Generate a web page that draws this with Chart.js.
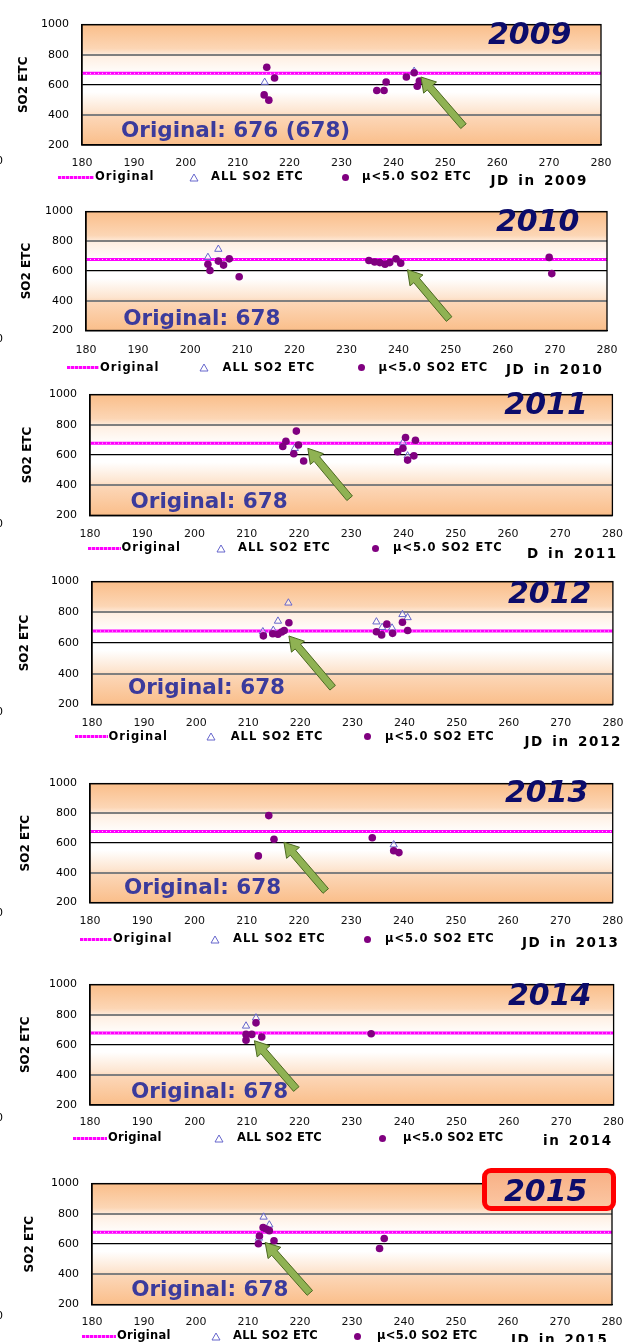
<!DOCTYPE html>
<html>
<head>
<meta charset="utf-8">
<script src="https://cdn.jsdelivr.net/npm/chart.js@4.4.1/dist/chart.umd.min.js"></script>
<style>
  html, body { margin: 0; padding: 0; background: #fff; }
  #page { position: relative; width: 635px; height: 1342px; overflow: hidden; background: #fff; }
  #page canvas { position: absolute; left: 0; }
  .t { position: absolute; white-space: nowrap; font-family: "DejaVu Sans", sans-serif; line-height: 1; z-index: 3; }
  .year { font-weight: bold; font-style: italic; font-size: 30px; color: #0c0c6a; z-index: 5; }
  .caption { font-weight: bold; font-size: 21.5px; color: #3b3b9c; }
  .leg { font-weight: bold; font-size: 11.5px; letter-spacing: 1px; color: #000; }
  .jd { font-weight: bold; font-size: 13.5px; letter-spacing: 1.6px; word-spacing: 2px; color: #000; }
  .zero { font-size: 11px; color: #000; }
  .sym { position: absolute; z-index: 3; }
  .hilite { position: absolute; box-sizing: border-box; border: 5px solid #ff0000; border-radius: 9px;
            background: linear-gradient(#f8b186, #fbc6a2); z-index: 4; }
</style>
</head>
<body>
<div id="page"></div>
<script>
// ---- data ---------------------------------------------------------------
const tickDays   = [180, 190, 200, 210, 220, 230, 240, 250, 260, 270, 280];
const tickValues = [200, 400, 600, 800, 1000];
const yearList   = [2009, 2010, 2011, 2012, 2013, 2014, 2015];
const originalLevel = [676, 678, 678, 678, 678, 678, 678];
const captions = ['Original: 676 (678)', 'Original: 678', 'Original: 678', 'Original: 678',
                  'Original: 678', 'Original: 678', 'Original: 678'];
const xTitles  = ['JD in  2009', 'JD in  2010', 'D in  2011', 'JD in  2012',
                  'JD in  2013', 'in  2014', 'JD in  2015'];

// [julian day, SO2 ETC] — all retrievals (triangles)
const all2009 = [[215.2, 617], [244.0, 690]];
const all2010 = [[203.4, 692], [205.4, 747]];
const all2011 = [[219.2, 644], [239.9, 681], [240.8, 594]];
const all2012 = [[217.7, 861], [215.7, 743], [212.8, 674], [214.8, 683], [234.6, 738],
                 [235.7, 702], [237.6, 698], [239.6, 786], [240.6, 766]];
const all2013 = [[238.1, 589]];
const all2014 = [[209.8, 725], [211.7, 779]];
const all2015 = [[213.0, 779], [214.1, 727], [212.1, 640]];

// [julian day, SO2 ETC] — retrievals with mu < 5.0 (filled dots)
const mu2009 = [[215.6, 717], [217.1, 645], [215.1, 533], [216.0, 498], [236.8, 562], [238.2, 562],
                [238.6, 619], [242.5, 652], [244.0, 680], [245.0, 625], [244.6, 590]];
const mu2010 = [[203.4, 646], [203.8, 604], [205.4, 667], [206.4, 640], [207.5, 682], [209.4, 562],
                [234.3, 671], [235.4, 661], [236.4, 657], [237.4, 646], [238.3, 657], [239.5, 682],
                [240.4, 653], [268.9, 692], [269.4, 583]];
const mu2011 = [[219.5, 758], [217.5, 691], [216.9, 656], [219.9, 666], [219.0, 608], [220.9, 560],
                [240.4, 716], [242.3, 697], [239.9, 644], [238.9, 621], [242.0, 594], [240.8, 566]];
const mu2012 = [[217.8, 732], [212.9, 647], [214.7, 661], [215.7, 657], [216.9, 682], [216.4, 672],
                [236.6, 723], [234.6, 674], [235.6, 653], [237.7, 663], [239.6, 735], [240.6, 682]];
const mu2013 = [[214.2, 785], [215.2, 626], [212.2, 514], [234.0, 636], [238.1, 549], [239.1, 536]];
const mu2014 = [[211.7, 746], [209.8, 669], [210.9, 669], [209.8, 631], [212.8, 652], [233.7, 673]];
const mu2015 = [[212.9, 710], [213.5, 700], [214.1, 689], [212.2, 654], [212.0, 602], [215.0, 622],
                [236.2, 637], [235.3, 571]];

const allSeries = [all2009, all2010, all2011, all2012, all2013, all2014, all2015];
const muSeries  = [mu2009, mu2010, mu2011, mu2012, mu2013, mu2014, mu2015];

// ---- page layout (pixels) and pointer annotations (data units) ----------
// box: plot area [left, top, right, bottom]
const frames = [
  {box: [82, 17, 601, 145],       xGap: 18.3, yTitleX: 23.5, year: [488, 22.7],   caption: [121, 121.7],
   legY: 177,   legX: [58, 94, 95, 194, 211, 345, 362],            jd: [490.5, 180],  zeroY: 160,
   tip: [245.3, 652], tail: [253.5, 325], legSpacing: 1},
  {box: [86, 204.5, 607, 330.5],  xGap: 19.5, yTitleX: 27.3, year: [496, 210],    caption: [123.3, 310],
   legY: 367.7, legX: [66.6, 99, 100, 204, 222.5, 361.4, 378.4],   jd: [506, 369],    zeroY: 338,
   tip: [241.7, 609], tail: [249.7, 277], legSpacing: 1},
  {box: [90, 387.3, 616, 515.3],  xGap: 18.7, yTitleX: 27.6, year: [504.3, 392.7], caption: [130.5, 492.7],
   legY: 548,   legX: [88, 120.5, 121.5, 220.8, 238, 375.5, 393],  jd: [527, 553],    zeroY: 523,
   tip: [221.7, 644], tail: [229.7, 313], legSpacing: 1},
  {box: [92, 574, 618, 704.5],    xGap: 18.2, yTitleX: 24.7, year: [508, 581.7],  caption: [127.9, 679],
   legY: 736.7, legX: [75, 107.5, 108.5, 211, 230.7, 367.4, 385],  jd: [524.5, 741.7], zeroY: 711.7,
   tip: [217.8, 646], tail: [226.2, 309], legSpacing: 1},
  {box: [90, 776, 616, 902.6],    xGap: 18.4, yTitleX: 26, year: [505, 781],      caption: [124, 879],
   legY: 939,   legX: [80, 112, 113, 215, 233, 367, 385],          jd: [522, 942],    zeroY: 912,
   tip: [217.1, 606], tail: [225.1, 278], legSpacing: 1},
  {box: [90, 977, 616, 1105],     xGap: 17.5, yTitleX: 26, year: [508, 984],      caption: [131, 1083],
   legY: 1138,  legX: [73, 107, 108, 219, 237, 382, 403],          jd: [543, 1140],   zeroY: 1117,
   tip: [211.4, 627], tail: [219.4, 306], legSpacing: 0.3},
  {box: [92, 1176, 612, 1304.6],  xGap: 17.1, yTitleX: 30, year: [504, 1180],     caption: [131.2, 1281],
   legY: 1336,  legX: [82, 116, 117, 216, 233, 357, 377],          jd: [511, 1339],   zeroY: 1315,
   tip: [213.3, 611], tail: [221.9, 277], legSpacing: 0.3, highlight: [482, 1168, 134, 43]},
];

const FONT = '"DejaVu Sans", sans-serif';
const page = document.getElementById('page');

// ---- plugins ------------------------------------------------------------
const panelBackground = {
  id: 'panelBackground',
  beforeDraw(chart) {
    const {ctx, chartArea: a} = chart;
    const g = ctx.createLinearGradient(0, a.top, 0, a.bottom);
    g.addColorStop(0.00, '#fabe8a');
    g.addColorStop(0.20, '#fcd6b5');
    g.addColorStop(0.26, '#ffefe2');
    g.addColorStop(0.42, '#ffffff');
    g.addColorStop(0.56, '#ffffff');
    g.addColorStop(0.72, '#fde5d0');
    g.addColorStop(0.76, '#fcd7b8');
    g.addColorStop(1.00, '#fabe8a');
    ctx.save();
    ctx.fillStyle = g;
    ctx.fillRect(a.left, a.top, a.right - a.left, a.bottom - a.top);
    ctx.restore();
  }
};

const panelFrame = {
  id: 'panelFrame',
  afterDatasetsDraw(chart) {
    const {ctx, chartArea: a} = chart;
    ctx.save();
    ctx.strokeStyle = '#000';
    ctx.lineWidth = 1.3;
    ctx.strokeRect(a.left, a.top, a.right - a.left, a.bottom - a.top);
    ctx.restore();
  }
};

const pointerArrow = {
  id: 'pointerArrow',
  afterDraw(chart, args, opts) {
    if (!opts || !opts.tip) return;
    const {ctx, scales: {x, y}} = chart;
    const tx = x.getPixelForValue(opts.tip[0]),  ty = y.getPixelForValue(opts.tip[1]);
    const bx = x.getPixelForValue(opts.tail[0]), by = y.getPixelForValue(opts.tail[1]);
    const len = Math.hypot(tx - bx, ty - by);
    const ux = (tx - bx) / len, uy = (ty - by) / len;
    const nx = -uy, ny = ux;
    const sw = 3.6, hw = 8.5, hl = 14;
    const neckX = tx - ux * hl, neckY = ty - uy * hl;
    ctx.save();
    ctx.beginPath();
    ctx.moveTo(bx + nx * sw, by + ny * sw);
    ctx.lineTo(neckX + nx * sw, neckY + ny * sw);
    ctx.lineTo(neckX + nx * hw, neckY + ny * hw);
    ctx.lineTo(tx, ty);
    ctx.lineTo(neckX - nx * hw, neckY - ny * hw);
    ctx.lineTo(neckX - nx * sw, neckY - ny * sw);
    ctx.lineTo(bx - nx * sw, by - ny * sw);
    ctx.closePath();
    ctx.fillStyle = '#8fb253';
    ctx.fill();
    ctx.lineWidth = 1;
    ctx.strokeStyle = '#4d6a22';
    ctx.stroke();
    ctx.restore();
  }
};

// ---- helpers ------------------------------------------------------------
function addText(txt, cls, left, top, style) {
  const d = document.createElement('div');
  d.className = 't ' + cls;
  d.textContent = txt;
  d.style.left = left + 'px';
  d.style.top = top + 'px';
  if (style) Object.assign(d.style, style);
  page.appendChild(d);
  return d;
}

function addLegend(f) {
  const y = f.legY;
  const [l0, l1, origX, triX, allX, dotX, muX] = f.legX;
  // dotted magenta line sample
  const line = document.createElement('div');
  line.className = 'sym';
  Object.assign(line.style, {left: l0 + 'px', top: (y - 1.5) + 'px', width: (l1 - l0) + 'px', height: '3px',
    background: 'repeating-linear-gradient(90deg, #ff00ff 0 3px, #ff9cff 3px 4px)'});
  page.appendChild(line);
  // hollow triangle
  const svgNS = 'http://www.w3.org/2000/svg';
  const svg = document.createElementNS(svgNS, 'svg');
  svg.setAttribute('width', '10'); svg.setAttribute('height', '9');
  svg.setAttribute('class', 'sym');
  svg.style.left = (triX - 5) + 'px'; svg.style.top = (y - 4.5) + 'px';
  const poly = document.createElementNS(svgNS, 'polygon');
  poly.setAttribute('points', '5,1 9,8 1,8');
  poly.setAttribute('fill', 'none'); poly.setAttribute('stroke', '#6666cc'); poly.setAttribute('stroke-width', '1');
  svg.appendChild(poly);
  page.appendChild(svg);
  // filled dot
  const dot = document.createElement('div');
  dot.className = 'sym';
  Object.assign(dot.style, {left: (dotX - 3.5) + 'px', top: (y - 3.5) + 'px', width: '7px', height: '7px',
    borderRadius: '50%', background: '#800080'});
  page.appendChild(dot);
  const fs = 11.5, top = y - 0.48 * fs;
  const sp = {letterSpacing: f.legSpacing + 'px'};
  addText('Original', 'leg', origX, top, sp);
  addText('ALL SO2 ETC', 'leg', allX, top, sp);
  addText('\u03BC<5.0 SO2 ETC', 'leg', muX, top, sp);
}

// ---- build panels ---------------------------------------------------------
frames.forEach((f, i) => {
  const [bl, bt, br, bb] = f.box;
  const cTop = Math.floor(bt) - 12;
  const cBottom = Math.ceil(bb) + 28;
  const cH = cBottom - cTop;
  const canvas = document.createElement('canvas');
  canvas.width = 635; canvas.height = cH;
  canvas.style.top = cTop + 'px';
  canvas.style.width = '635px'; canvas.style.height = cH + 'px';
  page.appendChild(canvas);

  const level = originalLevel[i];
  const origLine = [{x: tickDays[0], y: level}, {x: tickDays[tickDays.length - 1], y: level}];
  const toXY = arr => arr.map(([d, v]) => ({x: d, y: v}));

  new Chart(canvas, {
    type: 'scatter',
    data: {
      datasets: [
        {label: '\u03BC<5.0 SO2 ETC', data: toXY(muSeries[i]), order: 0,
         pointStyle: 'circle', pointRadius: 3.8, backgroundColor: '#800080', borderColor: '#800080', borderWidth: 0},
        {label: 'ALL SO2 ETC', data: toXY(allSeries[i]), order: 1,
         pointStyle: 'triangle', pointRadius: 4.2, backgroundColor: 'rgba(255,255,255,0.5)', borderColor: '#6666cc', borderWidth: 1},
        {type: 'line', label: 'Original (dots)', data: origLine, order: 2,
         borderColor: '#ffd0ff', borderWidth: 1, borderDash: [1, 3], pointRadius: 0, fill: false},
        {type: 'line', label: 'Original', data: origLine, order: 3,
         borderColor: '#ff00ff', borderWidth: 3, pointRadius: 0, fill: false}
      ]
    },
    options: {
      responsive: false,
      animation: false,
      devicePixelRatio: 1,
      events: [],
      layout: {padding: {left: 0, right: 635 - br, top: bt - cTop, bottom: 0}},
      plugins: {
        legend: {display: false},
        tooltip: {enabled: false},
        pointerArrow: {tip: f.tip, tail: f.tail}
      },
      scales: {
        x: {
          type: 'linear', position: 'bottom', min: tickDays[0], max: tickDays[tickDays.length - 1],
          afterBuildTicks: s => { s.ticks = tickDays.map(v => ({value: v})); },
          afterFit: s => { s.height = cH - (bb - cTop); },
          ticks: {font: {family: FONT, size: 11}, color: '#111', padding: f.xGap - 6.6, maxRotation: 0,
                  autoSkip: false, callback: v => String(v)},
          grid: {display: false, drawTicks: false},
          border: {display: true, color: '#000', width: 1.3}
        },
        y: {
          type: 'linear', position: 'left', min: tickValues[0], max: tickValues[tickValues.length - 1],
          afterBuildTicks: s => { s.ticks = tickValues.map(v => ({value: v})); },
          afterFit: s => { s.width = bl; },
          ticks: {font: {family: FONT, size: 11}, color: '#000', padding: 13, callback: v => String(v)},
          grid: {
            drawTicks: false,
            color: c => (c.tick && (c.tick.value === 800 || c.tick.value === 400)) ? '#7f7f7f' : '#000',
            lineWidth: c => (c.tick && (c.tick.value === 800 || c.tick.value === 400)) ? 2 : 1.3
          },
          border: {display: true, color: '#000', width: 1.3},
          title: {display: true, text: 'SO2 ETC', color: '#000',
                  font: {family: FONT, size: 12, weight: 'bold'}, padding: {top: f.yTitleX - 7.2, bottom: 0}}
        }
      }
    },
    plugins: [panelBackground, panelFrame, pointerArrow]
  });

  // overlay texts
  if (f.highlight) {
    const h = document.createElement('div');
    h.className = 'hilite';
    Object.assign(h.style, {left: f.highlight[0] + 'px', top: f.highlight[1] + 'px',
      width: f.highlight[2] + 'px', height: f.highlight[3] + 'px'});
    page.appendChild(h);
  }
  addText(String(yearList[i]), 'year', f.year[0], f.year[1] - 0.117 * 30);
  addText(captions[i], 'caption', f.caption[0], f.caption[1] - 0.117 * 21.5);
  addLegend(f);
  addText(xTitles[i], 'jd', f.jd[0], f.jd[1] - 0.48 * 13.5);
  addText('0', 'zero', -4, f.zeroY - 0.48 * 11);
});
</script>
</body>
</html>
